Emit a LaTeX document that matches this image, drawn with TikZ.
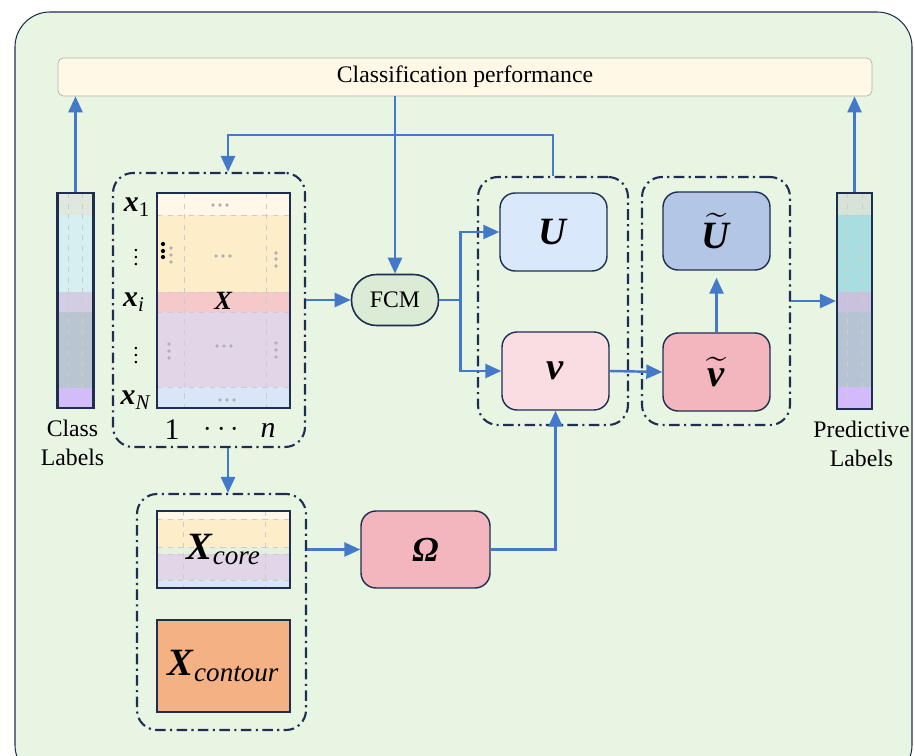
\documentclass[tikz,border=0pt]{standalone}
\usepackage{fontspec}
\setmainfont{Liberation Serif}
\usepackage{amsmath}
\usepackage{tikz}
\usetikzlibrary{arrows.meta, positioning, fit}
\definecolor{navy}{HTML}{1F2D50}
\definecolor{bggreen}{HTML}{E9F5E3}
\definecolor{arrblue}{HTML}{4478C8}
\definecolor{perffill}{HTML}{FFF8E6}
\definecolor{fcmfill}{HTML}{DCEBD5}
\definecolor{ufill}{HTML}{DAE8FB}
\definecolor{vfill}{HTML}{FADDE2}
\definecolor{utfill}{HTML}{B4C6E6}
\definecolor{vtfill}{HTML}{F3B5BE}
\definecolor{contfill}{HTML}{F4B183}
\definecolor{dotgray}{HTML}{B0B0B8}
% label columns
\definecolor{clsA}{HTML}{E0E8DE}
\definecolor{clsB}{HTML}{D6F0F2}
\definecolor{clsC}{HTML}{D3CDE3}
\definecolor{clsD}{HTML}{B9C6D2}
\definecolor{clsE}{HTML}{D2BDFA}
\definecolor{preA}{HTML}{D6E3D6}
\definecolor{preB}{HTML}{A9DEE0}
\definecolor{preC}{HTML}{C8C2DE}
\definecolor{preD}{HTML}{B5C3D2}
\definecolor{preE}{HTML}{D2BAFC}
% data matrix
\definecolor{xA}{HTML}{FFF8E8}
\definecolor{xB}{HTML}{FEEDC9}
\definecolor{xC}{HTML}{F5C9C9}
\definecolor{xD}{HTML}{E3D5E8}
\definecolor{xE}{HTML}{D9E6F8}
\definecolor{xG}{HTML}{E6F0DE}
\newcommand{\bivar}[1]{\textbf{\textit{#1}}}

\begin{document}
\begin{tikzpicture}[
    x=0.02cm, y=-0.02cm,
    every node/.style={font=\fontsize{13.5}{16.5}\selectfont},
    perfbox/.style={rectangle, draw=gray!60, fill=perffill, rounded corners=3pt, minimum width=16.28cm, minimum height=0.76cm, inner sep=0pt},
    col/.style={rectangle, draw=navy, line width=1.2pt, minimum width=0.72cm, minimum height=4.3cm, inner sep=0pt},
    mbox/.style={rectangle, draw=navy, line width=1.2pt, minimum width=2.66cm, inner sep=0pt},
    var/.style={rectangle, draw=navy, line width=0.8pt, rounded corners=0.3cm, minimum width=2.14cm, minimum height=1.56cm, font=\fontsize{22}{24}\selectfont},
    grp/.style={draw=navy, line width=1.2pt, dash pattern=on 6pt off 2.5pt on 1.2pt off 2.5pt, rounded corners=0.4cm, inner sep=0pt},
    lbl/.style={align=center, font=\fontsize{13.5}{16.5}\selectfont},
    rowlbl/.style={inner sep=1pt, font=\fontsize{17}{18}\selectfont},
    sep/.style={gray!40, dashed, line width=0.4pt},
    arr/.style={-{Triangle[length=3.2mm, width=2.8mm]}, line width=1.4pt, color=arrblue}
]
\useasboundingbox (0,0) rectangle (915,756);
\clip (0,0) rectangle (915,756);

% Frame
\draw[navy, line width=0.6pt, fill=bggreen, rounded corners=0.7cm] (15,12) rectangle (912,780);

% Classification performance
\node[perfbox] (perf) at (465,77) {Classification performance};

% Class labels
\foreach \ya/\yb/\c in {193/215/clsA, 215/292/clsB, 292/312/clsC, 312/388/clsD, 388/408/clsE}
  \fill[\c] (57,\ya) rectangle (94,\yb);
\foreach \xx in {68,82} \draw[sep] (\xx,193) -- (\xx,408);
\node[col] (cls) at (75.5,300.5) {};
\node[lbl, below=3pt of cls, xshift=-0.06cm] (clslbl) {Class\\Labels};

% Predictive labels
\foreach \ya/\yb/\c in {193/215/preA, 215/292/preB, 292/312/preC, 312/387/preD, 387/409/preE}
  \fill[\c] (837,\ya) rectangle (872,\yb);
\foreach \xx in {847,862} \draw[sep] (\xx,193) -- (\xx,409);
\node[col, minimum width=0.7cm, minimum height=4.32cm] (pred) at (854.5,301) {};
\node[lbl, below=3pt of pred, xshift=0.14cm] (predlbl) {Predictive\\Labels};

% Data matrix X
\foreach \ya/\yb/\c in {193/215/xA, 215/292/xB, 292/312/xC, 312/387/xD, 387/408/xE}
  \fill[\c] (157,\ya) rectangle (290,\yb);
\foreach \yy in {215,292,312,387} \draw[sep] (157,\yy) -- (290,\yy);
\foreach \xx in {184,266} \draw[sep] (\xx,193) -- (\xx,408);
\foreach \px/\py in {213/205,220/205,227/205, 216/256,223/256,230/256, 171/248,171/255,171/262,
    276/253,276/259,276/266, 217/346,224/346,231/346, 169/344,169/351,169/358,
    276/343,276/350,276/357, 220/400,227/400,234/400}
  \fill[dotgray] (\px,\py) circle (1.1pt);
\foreach \py in {244,251,257} \fill[black] (163,\py) circle (1.2pt);
\node[mbox, minimum height=4.3cm, font=\fontsize{15}{16}\selectfont] (mat) at (223.5,300.5) {\bivar{X}};

% Row and column labels
\node[rowlbl] (x1) at (137,207) {\bivar{x}$_{\text{1}}$};
\node[rowlbl, font=\fontsize{12}{12}\selectfont] (xd1) at (136,252) {$\vdots$};
\node[rowlbl] (xi) at (134,302) {\bivar{x}$_{\text{\textit{i}}}$};
\node[rowlbl, font=\fontsize{12}{12}\selectfont] (xd2) at (136,350) {$\vdots$};
\node[rowlbl] (xN) at (136,400) {\bivar{x}$_{\text{\textit{N}}}$};
\node[rowlbl] (c1) at (172,430) {1};
\node[rowlbl] (cd) at (224,430) {$\cdots$};
\node[rowlbl] (cn) at (268,430) {\textit{n}};
\node[grp, fit={(113,173) (305,447)}] (mg) {};

% FCM
\node[rectangle, draw=navy, line width=0.9pt, fill=fcmfill, rounded corners=0.5cm, minimum width=1.74cm, minimum height=1.02cm] (fcm) at (395,300) {FCM};

% Memberships and prototypes
\node[var, fill=ufill] (U) at (553.5,232) {\bivar{U}};
\node[var, fill=vfill] (v) at (555.5,371) {\bivar{v}};
\node[grp, fit={(478,177) (628,425)}] (g1) {};
\node[var, fill=utfill] (Ut) at (716.5,231) {$\widetilde{\text{\bivar{U}}}$};
\node[var, fill=vtfill] (vt) at (716.5,372) {$\widetilde{\text{\bivar{v}}}$};
\node[grp, fit={(642,177) (790,425)}] (g2) {};

% Core and contour
\foreach \ya/\yb/\c in {511/519/xA, 519/547/xB, 547/554/xG, 554/580/xD, 580/588/xE}
  \fill[\c] (157,\ya) rectangle (290,\yb);
\foreach \yy in {519,547,554,580} \draw[sep] (157,\yy) -- (290,\yy);
\foreach \xx in {183,265} \draw[sep] (\xx,511) -- (\xx,588);
\node[mbox, minimum height=1.54cm, font=\fontsize{22}{24}\selectfont] (core) at (223.5,549.5) {\bivar{X}$_{\text{\textit{core}}}$};
\node[mbox, fill=contfill, minimum height=1.84cm, font=\fontsize{22}{24}\selectfont] (cont) at (223.5,666) {\bivar{X}$_{\text{\textit{contour}}}$};
\node[grp, fit={(137,494) (306,730)}] (cg) {};
\node[var, fill=vtfill, minimum width=2.58cm, minimum height=1.54cm, font=\fontsize{20}{22}\selectfont] (om) at (425.5,549.5) {\bivar{Ω}};

% Arrows
\coordinate (fb) at (228,135);
\draw[arr] (cls.north) -- (cls.north |- perf.south);
\draw[arr] (pred.north) -- (pred.north |- perf.south);
\draw[arr] (perf.south -| fcm.north) -- (fcm.north);
\draw[arr] (g1.north) |- (fb) -- (fb |- mg.north);
\draw[arr] (fcm.west -| mg.east) -- (fcm.west);
\draw[arr] (fcm.east) -- ++(21,0) |- (U.west);
\draw[arr] (fcm.east) -- ++(21,0) |- (v.west);
\draw[arr] (v.east) -- (vt.west);
\draw[arr, shorten >=4pt] (vt.north) -- (Ut.south);
\draw[arr] (g2.east) -- (g2.east -| pred.west);
\draw[arr] (fb |- mg.south) -- (fb |- cg.north);
\draw[arr] (om.west -| cg.east) -- (om.west);
\draw[arr] (om.east) -| (v.south);

\end{tikzpicture}
\end{document}
